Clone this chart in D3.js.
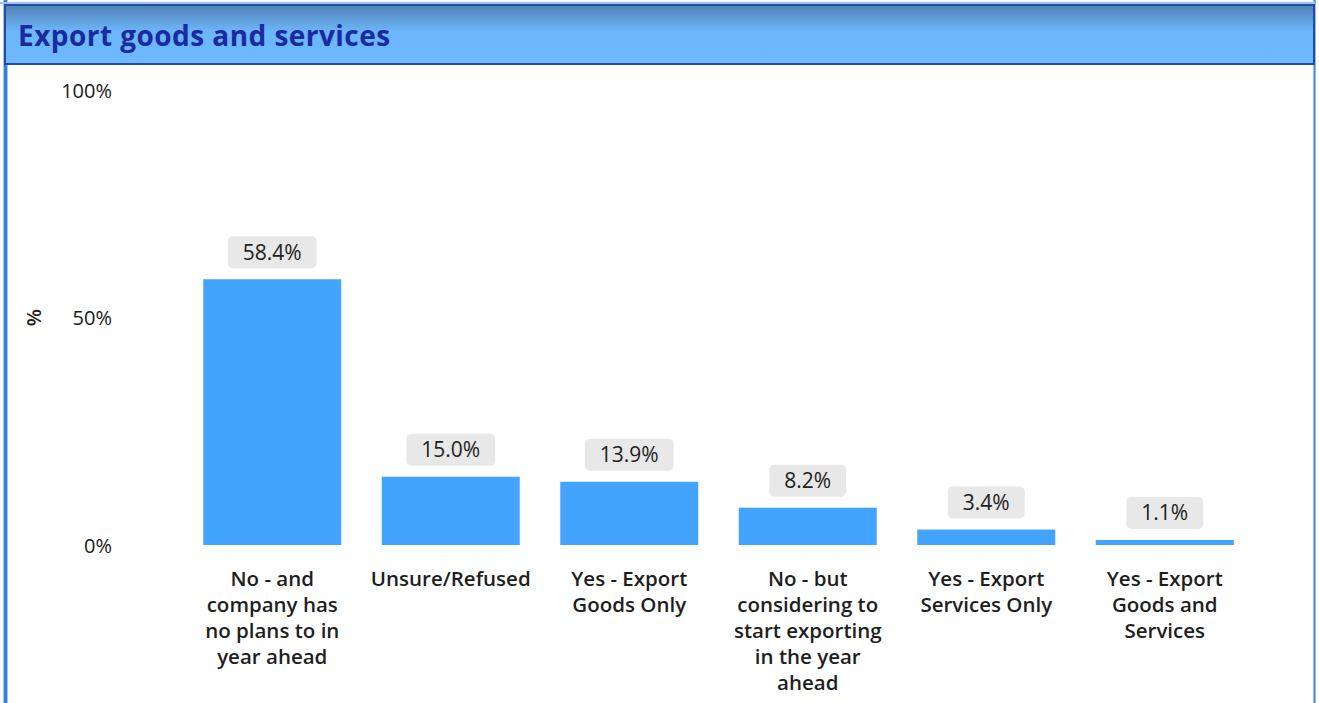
<!DOCTYPE html>
<html>
<head>
<meta charset="utf-8">
<script src="https://cdn.jsdelivr.net/npm/d3@7"></script>
<style>
  html, body { margin: 0; padding: 0; background: #fff; }
  svg { display: block; }
</style>
</head>
<body>
<svg id="chart" width="1319" height="703"></svg>
<script>
// Survey responses: does the business export goods and/or services?
const title = "Export goods and services";
const categories = [
  "No - and company has no plans to in year ahead",
  "Unsure/Refused",
  "Yes - Export Goods Only",
  "No - but considering to start exporting in the year ahead",
  "Yes - Export Services Only",
  "Yes - Export Goods and Services"
];
// Category labels broken into display lines
const categoryLines = [
  ["No - and", "company has", "no plans to in", "year ahead"],
  ["Unsure/Refused"],
  ["Yes - Export", "Goods Only"],
  ["No - but", "considering to", "start exporting", "in the year", "ahead"],
  ["Yes - Export", "Services Only"],
  ["Yes - Export", "Goods and", "Services"]
];
const values = [58.4, 15.0, 13.9, 8.2, 3.4, 1.1];
const yTicks = [0, 50, 100];
const yTitle = "%";

const W = 1319, H = 703;
const FONT = "'Segoe UI', 'Open Sans', 'Noto Sans', sans-serif";
const svg = d3.select("#chart");
const defs = svg.append("defs");

// Header gradient
const grad = defs.append("linearGradient").attr("id", "hdr").attr("x1", 0).attr("y1", 0).attr("x2", 0).attr("y2", 1);
grad.append("stop").attr("offset", "0%").attr("stop-color", "#5283b4");
grad.append("stop").attr("offset", "45%").attr("stop-color", "#6cb6fb");
grad.append("stop").attr("offset", "100%").attr("stop-color", "#6db9ff");

// Frame lines
svg.append("rect").attr("x", 3).attr("y", 0).attr("width", 5).attr("height", H).attr("fill", "#9cc4ee");
svg.append("rect").attr("x", 4).attr("y", 0).attr("width", 3).attr("height", H).attr("fill", "#3a80d2");
svg.append("rect").attr("x", 1313).attr("y", 0).attr("width", 3).attr("height", H).attr("fill", "#8cbcec");
svg.append("rect").attr("x", 1314).attr("y", 0).attr("width", 1).attr("height", H).attr("fill", "#4a8ee0");
svg.append("rect").attr("x", 0).attr("y", 2).attr("width", 1315).attr("height", 2).attr("fill", "#9cc4ee");

// Header band
svg.append("rect").attr("x", 5).attr("y", 5).attr("width", 1309).attr("height", 59)
  .attr("fill", "url(#hdr)").attr("stroke", "#2a48a8").attr("stroke-width", 2);
svg.append("text").attr("x", 18).attr("y", 46)
  .attr("font-family", FONT).attr("font-size", 28).attr("font-weight", 700)
  .attr("letter-spacing", 0.45)
  .attr("fill", "#1a2aa0").text(title);

// Scales
const x = d3.scaleBand().domain(categories).range([183, 1254]).paddingInner(0.227).paddingOuter(0.1135);
const y = d3.scaleLinear().domain([0, 100]).range([545, 90]);

// Y axis (labels only)
const yAxis = svg.append("g").attr("transform", "translate(112,0)")
  .call(d3.axisLeft(y).tickValues(yTicks).tickFormat(d => d + "%").tickSize(0).tickPadding(0));
yAxis.select(".domain").remove();
yAxis.selectAll("text").attr("font-family", FONT).attr("font-size", 20).attr("font-weight", 400)
  .attr("fill", "#1a1a1a").attr("dy", "0.35em");

svg.append("text").attr("transform", `translate(41,${y(50)}) rotate(-90)`)
  .attr("text-anchor", "middle").attr("font-family", FONT).attr("font-size", 20).attr("font-weight", 600)
  .attr("fill", "#1e1e1e").text(yTitle);

// Bars
svg.append("g").selectAll("rect").data(values).join("rect")
  .attr("x", (d, i) => x(categories[i]))
  .attr("y", d => y(d))
  .attr("width", x.bandwidth())
  .attr("height", d => y(0) - y(d))
  .attr("fill", "#42a4ff");

// Value labels with rounded grey backgrounds
const lbl = svg.append("g").selectAll("g").data(values).join("g")
  .attr("transform", (d, i) => `translate(${x(categories[i]) + x.bandwidth() / 2},${y(d) - 11})`);
lbl.append("text").attr("y", -8.5).attr("text-anchor", "middle")
  .attr("font-family", FONT).attr("font-size", 21).attr("font-weight", 400).attr("fill", "#222")
  .text(d => d.toFixed(1) + "%");
lbl.each(function () {
  const g = d3.select(this);
  const tw = g.select("text").node().getComputedTextLength();
  g.insert("rect", "text").attr("x", -tw / 2 - 15).attr("y", -32).attr("width", tw + 30).attr("height", 32)
    .attr("rx", 5).attr("fill", "#e8e8e8");
});

// Category labels
const cat = svg.append("g").selectAll("text").data(categoryLines).join("text")
  .attr("text-anchor", "middle").attr("font-family", FONT).attr("font-size", 20.5).attr("font-weight", 600)
  .attr("fill", "#1e1e1e")
  .attr("transform", (d, i) => `translate(${x(categories[i]) + x.bandwidth() / 2},586)`);
cat.selectAll("tspan").data(d => d).join("tspan")
  .attr("x", 0).attr("y", (d, j) => j * 26).text(d => d);
</script>
</body>
</html>
